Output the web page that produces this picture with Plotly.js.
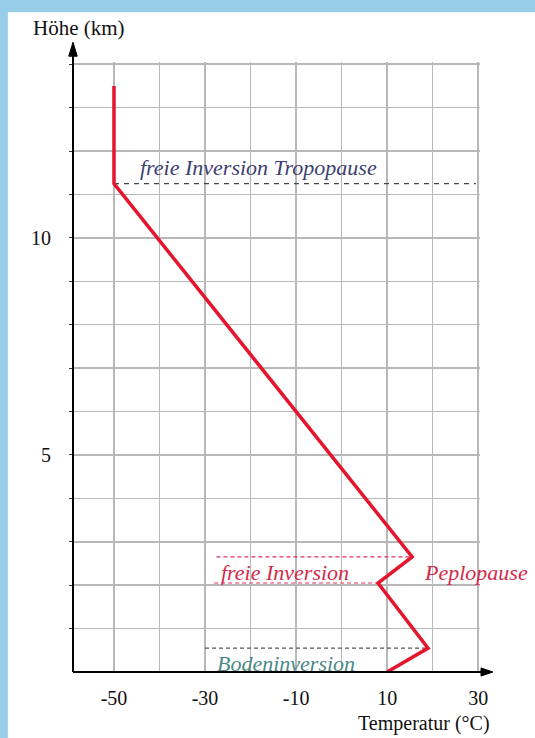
<!DOCTYPE html>
<html>
<head>
<meta charset="utf-8">
<script src="https://cdn.plot.ly/plotly-3.0.1.min.js"></script>
<style>
  html, body { margin: 0; padding: 0; background: #98cdea; }
  #chart { width: 535px; height: 738px; }
</style>
</head>
<body>
<div id="chart"></div>
<script>
// Temperature profile (°C) and height (km)
const profileTemp   = [-50, -50, 15.5, 8, 19, 10];
const profileHeight = [13.5, 11.25, 2.65, 2.05, 0.55, 0];

// Inversion marker lines
const tropoX = [-50, 29.5];    const tropoY = [11.25, 11.25];
const pepTopX = [-27.5, 15.5]; const pepTopY = [2.65, 2.65];
const pepBotX = [-28, 8];      const pepBotY = [2.05, 2.05];
const bodenX = [-30, 19];      const bodenY = [0.55, 0.55];

// Axis ticks
const xTickVals = [-50, -40, -30, -20, -10, 0, 10, 20, 30];
const xTickText = ['-50', '', '-30', '', '-10', '', '10', '', '30'];
const yTickVals = [1, 2, 3, 4, 5, 6, 7, 8, 9, 10, 11, 12, 13, 14];
const yTickText = ['', '', '', '', '5', '', '', '', '', '10', '', '', '', ''];

const serif = 'Liberation Serif, Times New Roman, serif';
const gridColor = '#b8b8b8';

const traces = [
  { x: tropoX, y: tropoY, mode: 'lines', line: {color: '#444', width: 1.2, dash: '5px,5px'}, hoverinfo: 'skip' },
  { x: pepTopX, y: pepTopY, mode: 'lines', line: {color: '#e0305a', width: 1.2, dash: '4px,3px'}, hoverinfo: 'skip' },
  { x: pepBotX, y: pepBotY, mode: 'lines', line: {color: '#e0305a', width: 1.2, dash: '4px,3px'}, hoverinfo: 'skip' },
  { x: bodenX, y: bodenY, mode: 'lines', line: {color: '#555', width: 1.2, dash: '4px,3px'}, hoverinfo: 'skip' },
  { x: profileTemp, y: profileHeight, mode: 'lines', line: {color: '#e3162c', width: 3.5}, hoverinfo: 'skip' }
];

// plot area: x -59..30.4 over 406.8px, y 0..14.05 over 610.2px
const layout = {
  width: 535, height: 738,
  margin: {l: 73, r: 55.2, t: 61.8, b: 66},
  paper_bgcolor: '#98cdea',
  plot_bgcolor: 'white',
  showlegend: false,
  font: {family: serif, color: '#111', size: 20},
  xaxis: {
    range: [-59, 30.4], tickvals: xTickVals, ticktext: xTickText,
    showgrid: true, gridcolor: gridColor, gridwidth: 1.5,
    zeroline: false, showline: false, ticks: '',
    ticklabelstandoff: 12,
    tickfont: {family: serif, size: 20, color: '#111'},
    fixedrange: true
  },
  yaxis: {
    range: [0, 14.05], tickvals: yTickVals, ticktext: yTickText,
    showgrid: true, gridcolor: gridColor, gridwidth: 1.5,
    zeroline: false, showline: false,
    ticks: 'outside', ticklen: 3, tickcolor: '#333', tickwidth: 1,
    ticklabelstandoff: 14,
    tickfont: {family: serif, size: 20, color: '#111'},
    fixedrange: true
  },
  shapes: [
    // white panel
    {type: 'rect', xref: 'paper', yref: 'paper', x0: -0.16, x1: 1.15, y0: -0.12, y1: 1.0816,
     fillcolor: 'white', line: {width: 0}, layer: 'below'},
    // x axis arrow
    {type: 'line', xref: 'paper', yref: 'paper', x0: 0, x1: 1.005, y0: 0, y1: 0, line: {color: '#000', width: 2}},
    {type: 'path', xref: 'paper', yref: 'paper', path: 'M 1.0025 0.0066 L 1.032 0 L 1.0025 -0.0066 Z',
     fillcolor: '#000', line: {color: '#000', width: 1}},
    // y axis arrow
    {type: 'line', xref: 'paper', yref: 'paper', x0: 0, x1: 0, y0: 0, y1: 1.012, line: {color: '#000', width: 2}},
    {type: 'path', xref: 'paper', yref: 'paper', path: 'M -0.0104 1.0095 L 0 1.0325 L 0.0104 1.0095 Z',
     fillcolor: '#000', line: {color: '#000', width: 1}}
  ],
  annotations: [
    {xref: 'paper', yref: 'paper', x: -0.103, y: 1.056, xanchor: 'left', yanchor: 'middle',
     text: 'Höhe (km)', showarrow: false, font: {family: serif, size: 21, color: '#111'}},
    {xref: 'paper', yref: 'paper', x: 1.03, y: -0.085, xanchor: 'right', yanchor: 'middle',
     text: 'Temperatur (°C)', showarrow: false, font: {family: serif, size: 20, color: '#111'}},
    {x: -44.7, y: 11.63, xanchor: 'left', yanchor: 'middle', showarrow: false,
     text: '<i>freie Inversion Tropopause</i>', font: {family: serif, size: 22, color: '#3c4070'}},
    {x: -26.9, y: 2.3, xanchor: 'left', yanchor: 'middle', showarrow: false,
     text: '<i>freie Inversion</i>', font: {family: serif, size: 22, color: '#d42a4a'}},
    {x: 17.7, y: 2.3, xanchor: 'left', yanchor: 'middle', showarrow: false,
     text: '<i>Peplopause</i>', font: {family: serif, size: 22, color: '#d42a4a'}},
    {x: -27.8, y: 0.2, xanchor: 'left', yanchor: 'middle', showarrow: false,
     text: '<i>Bodeninversion</i>', font: {family: serif, size: 22, color: '#4a8a85'}}
  ]
};

Plotly.newPlot('chart', traces, layout, {displayModeBar: false, staticPlot: true});
</script>
</body>
</html>
